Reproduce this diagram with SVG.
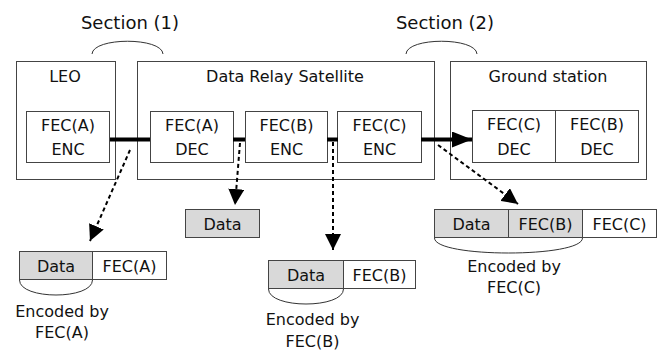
<svg xmlns="http://www.w3.org/2000/svg" width="664" height="354" viewBox="0 0 664 354">
  <defs>
    <style>
      text { font-family: "DejaVu Sans", "Liberation Sans", sans-serif; font-size: 16px; fill: #111; text-anchor: middle; }
      .sec { font-size: 18px; }
      .box { fill: #fff; stroke: #444; stroke-width: 1; }
      .gray { fill: #d9d9d9; stroke: #444; stroke-width: 1; }
      .arc { fill: none; stroke: #333; stroke-width: 1; }
      .link { fill: none; stroke: #000; stroke-width: 4; }
      .dash { fill: none; stroke: #000; stroke-width: 2; stroke-dasharray: 4 3; }
    </style>
    <marker id="headSolid" viewBox="0 0 20 16" refX="20" refY="8" markerWidth="20" markerHeight="16" markerUnits="userSpaceOnUse" orient="auto">
      <path d="M0,0 L20,8 L0,16 Z" fill="#000"/>
    </marker>
    <marker id="headDash" viewBox="0 0 16 16" refX="16" refY="8" markerWidth="16" markerHeight="16" markerUnits="userSpaceOnUse" orient="auto">
      <path d="M0,0 L16,8 L0,16 Z" fill="#000"/>
    </marker>
  </defs>

  <!-- section labels with their arcs -->
  <g id="section1">
    <text class="sec" x="130" y="29">Section (1)</text>
    <path class="arc" d="M92,54 C93,37 162,37 163,54"/>
  </g>
  <g id="section2">
    <text class="sec" x="445" y="29">Section (2)</text>
    <path class="arc" d="M406,54 C407,37 476,37 477,54"/>
  </g>

  <!-- LEO -->
  <g id="leo">
    <rect class="box" x="16.5" y="61.5" width="99" height="118"/>
    <text x="65" y="82">LEO</text>
  </g>
  <g id="leo-fec-a-enc">
    <rect class="box" x="26.5" y="111.5" width="83" height="51"/>
    <text x="68" y="131">FEC(A)</text>
    <text x="68" y="155">ENC</text>
  </g>

  <!-- Data relay satellite -->
  <g id="drs">
    <rect class="box" x="137.5" y="61.5" width="297" height="118"/>
    <text x="285" y="82">Data Relay Satellite</text>
  </g>
  <g id="drs-fec-a-dec">
    <rect class="box" x="150.5" y="111.5" width="83" height="51"/>
    <text x="192" y="131">FEC(A)</text>
    <text x="192" y="155">DEC</text>
  </g>
  <g id="drs-fec-b-enc">
    <rect class="box" x="245.5" y="111.5" width="82" height="51"/>
    <text x="286.5" y="131">FEC(B)</text>
    <text x="286.5" y="155">ENC</text>
  </g>
  <g id="drs-fec-c-enc">
    <rect class="box" x="337.5" y="111.5" width="84" height="51"/>
    <text x="379.5" y="131">FEC(C)</text>
    <text x="379.5" y="155">ENC</text>
  </g>

  <!-- Ground station -->
  <g id="ground">
    <rect class="box" x="450.5" y="61.5" width="196" height="118"/>
    <text x="548" y="82">Ground station</text>
  </g>
  <g id="ground-fec-c-dec">
    <rect class="box" x="472.5" y="110.5" width="83" height="52"/>
    <text x="514" y="130">FEC(C)</text>
    <text x="514" y="155">DEC</text>
  </g>
  <g id="ground-fec-b-dec">
    <rect class="box" x="555.5" y="110.5" width="83" height="52"/>
    <text x="597" y="130">FEC(B)</text>
    <text x="597" y="155">DEC</text>
  </g>

  <!-- frame formats -->
  <g id="frame-a">
    <rect class="gray" x="19.5" y="251.5" width="73" height="28"/>
    <rect class="box" x="92.5" y="251.5" width="74" height="28"/>
    <text x="56" y="272">Data</text>
    <text x="129.5" y="272">FEC(A)</text>
    <path class="arc" d="M19.5,280 C19.5,300 92.5,300 92.5,280"/>
    <text x="62" y="317">Encoded by</text>
    <text x="62" y="338">FEC(A)</text>
  </g>
  <g id="frame-data">
    <rect class="gray" x="185.5" y="209.5" width="74" height="28"/>
    <text x="222.5" y="230">Data</text>
  </g>
  <g id="frame-b">
    <rect class="gray" x="268.5" y="260.5" width="75" height="28"/>
    <rect class="box" x="343.5" y="260.5" width="72" height="28"/>
    <text x="306" y="281">Data</text>
    <text x="379.5" y="281">FEC(B)</text>
    <path class="arc" d="M268.5,289 C268.5,309 343.5,309 343.5,289"/>
    <text x="312.5" y="325">Encoded by</text>
    <text x="312.5" y="347">FEC(B)</text>
  </g>
  <g id="frame-c">
    <rect class="gray" x="434.5" y="209.5" width="74" height="28"/>
    <rect class="gray" x="508.5" y="209.5" width="74" height="28"/>
    <rect class="box" x="582.5" y="209.5" width="74" height="28"/>
    <text x="471.5" y="230">Data</text>
    <text x="545.5" y="230">FEC(B)</text>
    <text x="619.5" y="230">FEC(C)</text>
    <path class="arc" d="M434.5,238 C434.5,258 582.5,258 582.5,238"/>
    <text x="514" y="272">Encoded by</text>
    <text x="514" y="293">FEC(C)</text>
  </g>

  <!-- connectors -->
  <g id="connectors">
    <line class="link" x1="110" y1="139.5" x2="150" y2="139.5"/>
    <line class="link" x1="233" y1="139.5" x2="245" y2="139.5"/>
    <line class="link" x1="327" y1="139.5" x2="338" y2="139.5"/>
    <line class="link" x1="421" y1="139.5" x2="472" y2="139.5" marker-end="url(#headSolid)"/>
    <line class="dash" x1="130" y1="150" x2="90" y2="241" marker-end="url(#headDash)"/>
    <line class="dash" x1="240" y1="143" x2="235" y2="205" marker-end="url(#headDash)"/>
    <line class="dash" x1="333" y1="142" x2="333" y2="250" marker-end="url(#headDash)"/>
    <line class="dash" x1="438" y1="145" x2="518" y2="204" marker-end="url(#headDash)"/>
  </g>
</svg>
